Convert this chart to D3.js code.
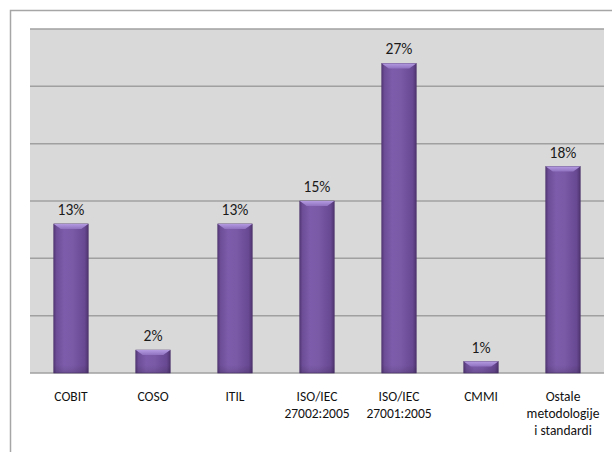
<!DOCTYPE html>
<html><head><meta charset="utf-8">
<script src="https://cdn.jsdelivr.net/npm/d3@7/dist/d3.min.js"></script>
<style>
html,body{margin:0;padding:0;background:#fff;}
svg{display:block;font-family:Carlito,Lato,"Open Sans",sans-serif;}
</style></head><body>
<svg id="c" width="612" height="452"></svg>
<script>
const categories = [["COBIT"],["COSO"],["ITIL"],["ISO/IEC","27002:2005"],["ISO/IEC","27001:2005"],["CMMI"],["Ostale","metodologije","i standardi"]];
const values = [13, 2, 13, 15, 27, 1, 18];
const labels = ["13%","2%","13%","15%","27%","1%","18%"];
const yTicks = [0,5,10,15,20,25,30];

const svg = d3.select("#c");
const m = {left:30, right:604, top:29, bottom:373};

// outer frame
svg.append("path").attr("d","M10.5,460 V10.5 H620").attr("fill","none").attr("stroke","#a6a6a6").attr("stroke-width",1.5);

const x = d3.scaleBand().domain(d3.range(categories.length)).range([m.left,m.right]).padding(0);
const y = d3.scaleLinear().domain([0,30]).range([m.bottom,m.top]);

svg.append("rect").attr("x",m.left).attr("y",m.top).attr("width",m.right-m.left).attr("height",m.bottom-m.top).attr("fill","#d9d9d9");

svg.append("g").selectAll("line").data(yTicks).join("line")
  .attr("x1",m.left).attr("x2",m.right)
  .attr("y1",d=>y(d)).attr("y2",d=>y(d))
  .attr("stroke","#a0a0a0").attr("stroke-width",1.5);

const defs = svg.append("defs");
const g1 = defs.append("linearGradient").attr("id","bg").attr("x1","0").attr("x2","1").attr("y1","0").attr("y2","0");
[[0,"#553878"],[0.08,"#6c4d96"],[0.3,"#7d5cab"],[0.55,"#7a59a7"],[0.9,"#674891"],[1,"#4f3470"]].forEach(s=>g1.append("stop").attr("offset",s[0]).attr("stop-color",s[1]));
const g2 = defs.append("linearGradient").attr("id","tg").attr("x1","0").attr("x2","0").attr("y1","0").attr("y2","1");
[[0,"#b39ae0"],[1,"#9072c0"]].forEach(s=>g2.append("stop").attr("offset",s[0]).attr("stop-color",s[1]));
const g3 = defs.append("linearGradient").attr("id","btg").attr("x1","0").attr("x2","0").attr("y1","0").attr("y2","1");
[[0,"#000",0],[1,"#000",0.12]].forEach(s=>g3.append("stop").attr("offset",s[0]).attr("stop-color",s[1]).attr("stop-opacity",s[2]));

const bw = x.bandwidth()*0.42;
const bars = svg.append("g").selectAll("g").data(values).join("g")
  .attr("transform",(d,i)=>`translate(${x(i)+x.bandwidth()/2-bw/2},0)`);
bars.append("rect").attr("x",0).attr("y",d=>y(d)).attr("width",bw).attr("height",d=>m.bottom-y(d)).attr("fill","url(#bg)").attr("stroke","#4a326a").attr("stroke-width",0.6);
bars.append("rect").attr("x",0).attr("y",d=>Math.max(y(d), m.bottom-8)).attr("width",bw).attr("height",d=>Math.min(8,m.bottom-y(d))).attr("fill","url(#btg)");
const bev = 5;
bars.append("path").attr("d",d=>{const t=y(d); const h=Math.min(bev,(m.bottom-t)/2);return `M0,${t} H${bw} L${bw-h*1.4},${t+h} H${h*1.4} Z`;}).attr("fill","url(#tg)");

svg.append("g").selectAll("text").data(values).join("text")
  .attr("x",(d,i)=>x(i)+x.bandwidth()/2).attr("y",d=>y(d)-9)
  .attr("text-anchor","middle").attr("font-size",15.5).attr("fill","#1a1a1a")
  .text((d,i)=>labels[i]);

const cl = svg.append("g").selectAll("text").data(categories).join("text")
  .attr("x",(d,i)=>x(i)+x.bandwidth()/2).attr("y",401)
  .attr("text-anchor","middle").attr("font-size",13.5).attr("fill","#111");
cl.selectAll("tspan").data(d=>d).join("tspan")
  .attr("x",function(){return this.parentNode.getAttribute("x");})
  .attr("dy",(d,i)=>i===0?0:16.8).text(d=>d);
</script>
</body></html>
